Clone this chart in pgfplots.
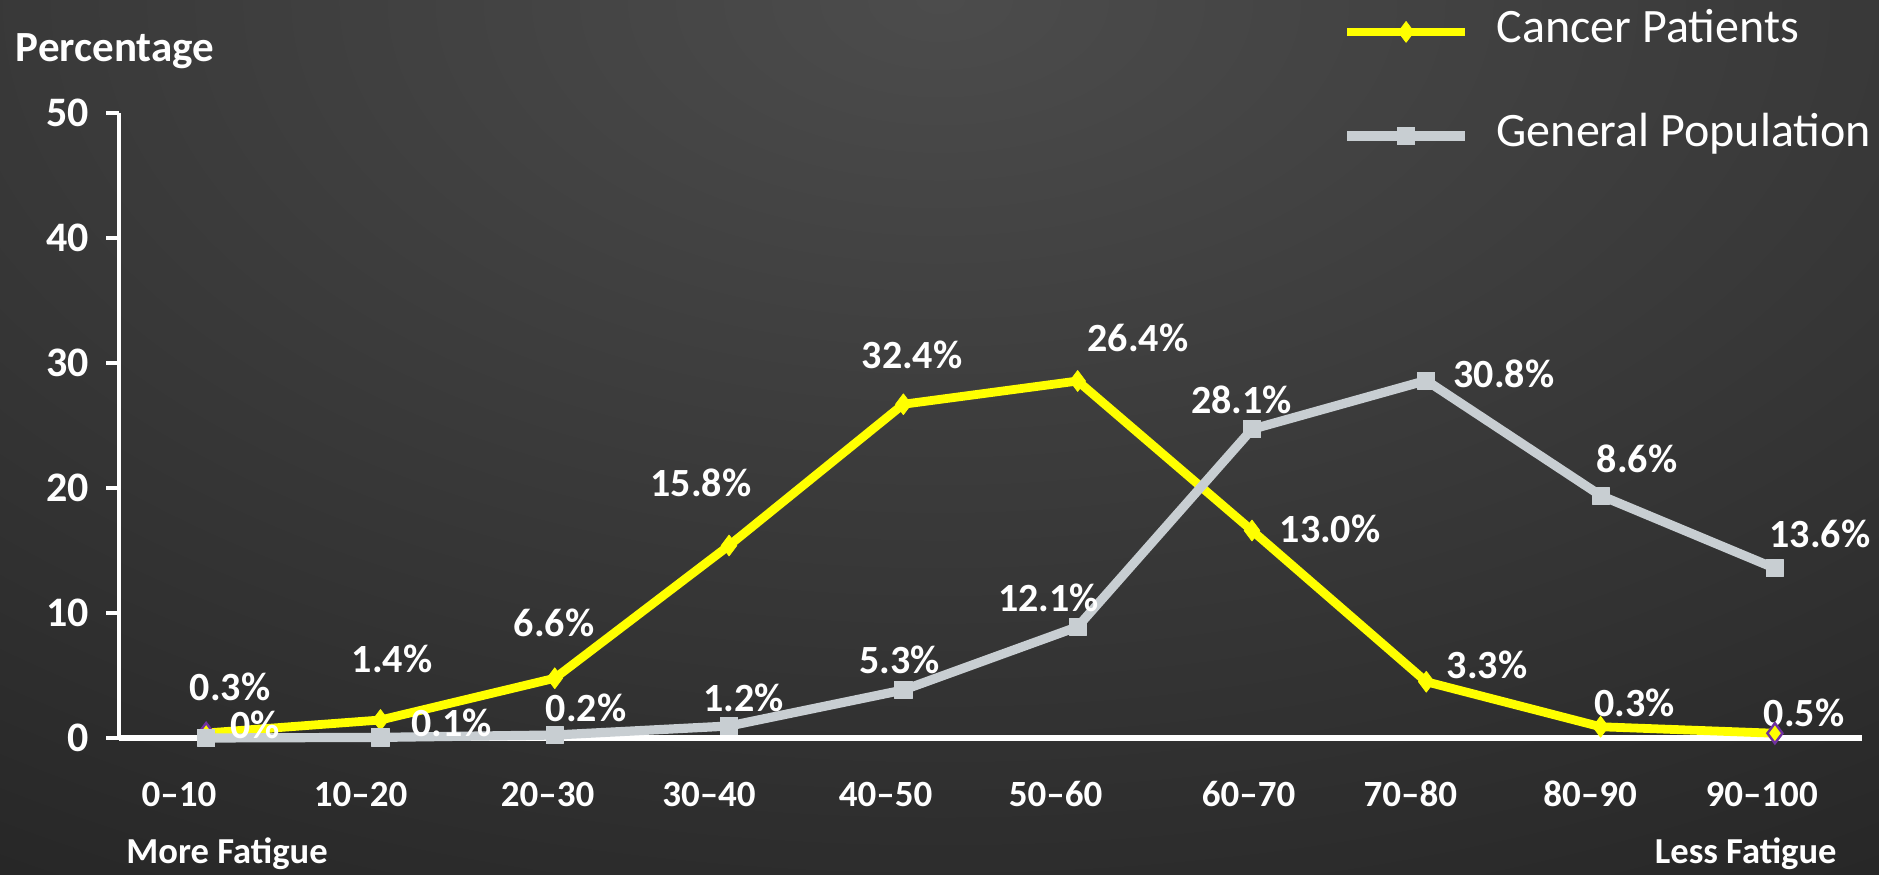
\documentclass[border=0pt]{standalone}
\usepackage{pgfplots}
\usepackage{pgfplotstable}
\pgfplotsset{compat=1.18}
\usepackage{fontspec}
\setmainfont{Carlito}
\definecolor{bgin}{HTML}{4C4C4C}
\definecolor{bgout}{HTML}{181818}
\definecolor{cyel}{HTML}{FFFF00}
\definecolor{cgry}{RGB}{200,206,210}
\definecolor{cpur}{HTML}{7030A0}

\pgfplotstableread{
x cancer general
0 0.40 0.00
1 1.44 0.05
2 4.78 0.24
3 15.4 0.96
4 26.7 3.84
5 28.56 8.90
6 16.6 24.7
7 4.50 28.6
8 0.90 19.4
9 0.38 13.58
}\datatable

\pgfplotstableread{
u v lab
0.137 4.13 0.3\%
0.28 1.04 0\%
1.066 6.34 1.4\%
1.408 1.2 0.1\%
1.996 9.25 6.6\%
2.179 2.43 0.2\%
3.082 3.23 1.2\%
2.839 20.4 15.8\%
3.98 6.26 5.3\%
4.05 30.68 32.4\%
5.346 32.0 26.4\%
4.833 11.25 12.1\%
5.94 27.03 28.1\%
6.448 16.73 13.0\%
7.446 29.13 30.8\%
7.349 5.86 3.3\%
8.209 22.3 8.6\%
8.195 2.83 0.3\%
9.259 16.3 13.6\%
9.167 2.0 0.5\%
}\labeltable

\begin{document}
\begin{tikzpicture}
\fill[bgout] (0,0) rectangle (939.5pt,437pt);
\begin{scope}
\clip (0,0) rectangle (939.5pt,437pt);
\shade[inner color=bgin, outer color=bgout] (470pt,437pt) ellipse (1250pt and 720pt);
\end{scope}
\begin{axis}[
  at={(59.5pt,68pt)}, anchor=south west,
  scale only axis, width=871.5pt, height=312.5pt,
  xmin=-0.5, xmax=9.5, ymin=0, ymax=50,
  clip=false,
  axis x line=bottom, axis y line=left,
  x axis line style={-, white, line width=2.6pt},
  y axis line style={-, white, line width=1.8pt},
  ytick={0,10,20,30,40,50},
  ytick style={white, line width=2pt},
  major tick length=6.5pt, tick align=outside,
  xtick={-0.156,0.886,1.959,2.885,3.898,4.873,5.981,6.909,7.940,8.924},
  xticklabels={0--10,10--20,20--30,30--40,40--50,50--60,60--70,70--80,80--90,90--100},
  xtick style={draw=none},
  /pgf/number format/assume math mode=true,
  xticklabel style={anchor=center, inner sep=0pt, yshift=-21.5pt, text=white, font=\bfseries\fontsize{18.5}{18.5}\selectfont},
  yticklabel style={anchor=east, inner sep=0pt, xshift=-8.5pt, text=white, font=\bfseries\fontsize{21}{21}\selectfont},
  legend image code/.code={\draw[mark repeat=2,mark phase=2,#1] plot coordinates {(0pt,0pt) (29.5pt,0pt) (59pt,0pt)};},
  legend style={at={(axis description cs:0.7017,1.1632)}, anchor=north west, draw=none, fill=none,
    inner sep=0pt, row sep=31.5pt, column sep=13.5pt, text=white,
    font=\fontsize{24}{24}\selectfont,
    nodes={inner sep=0pt, text height=15.5pt, text depth=5pt}},
  legend cell align=left,
]
\addplot[forget plot, draw=none, mark=none, nodes near coords, point meta=explicit symbolic,
  every node near coord/.append style={anchor=center, inner sep=0pt, text=white, font=\bfseries\fontsize{20}{20}\selectfont}]
  table[x=u, y=v, meta=lab] {\labeltable};
\addplot[cyel, line width=4.4pt, line join=round, mark=diamond*, mark size=5.2pt,
  mark options={solid, fill=cyel, draw=cyel, line width=0.4pt}]
  table[x=x, y=cancer] {\datatable};
\addlegendentry{Cancer Patients}
\addplot[forget plot, only marks, mark=diamond*, mark size=5pt,
  mark options={fill=cyel, draw=cpur, line width=1.2pt}]
  coordinates {(0,0.40) (9,0.38)};
\addplot[cgry, line width=4.6pt, line join=round, mark=square*, mark size=4.3pt,
  mark options={solid, fill=cgry, draw=cgry, line width=0.4pt}]
  table[x=x, y=general] {\datatable};
\addlegendentry{General Population}
\end{axis}
\node[anchor=base west, inner sep=0pt, text=white, font=\bfseries\fontsize{21.5}{21.5}\selectfont] at (7.8pt,406pt) {Percentage};
\node[anchor=base west, inner sep=0pt, text=white, font=\bfseries\fontsize{18.3}{18.3}\selectfont] at (63pt,5.5pt) {More Fatigue};
\node[anchor=base east, inner sep=0pt, text=white, font=\bfseries\fontsize{18.3}{18.3}\selectfont] at (918.5pt,5.5pt) {Less Fatigue};
\pgfresetboundingbox
\useasboundingbox (0,0) rectangle (939.5pt,437pt);
\end{tikzpicture}
\end{document}
